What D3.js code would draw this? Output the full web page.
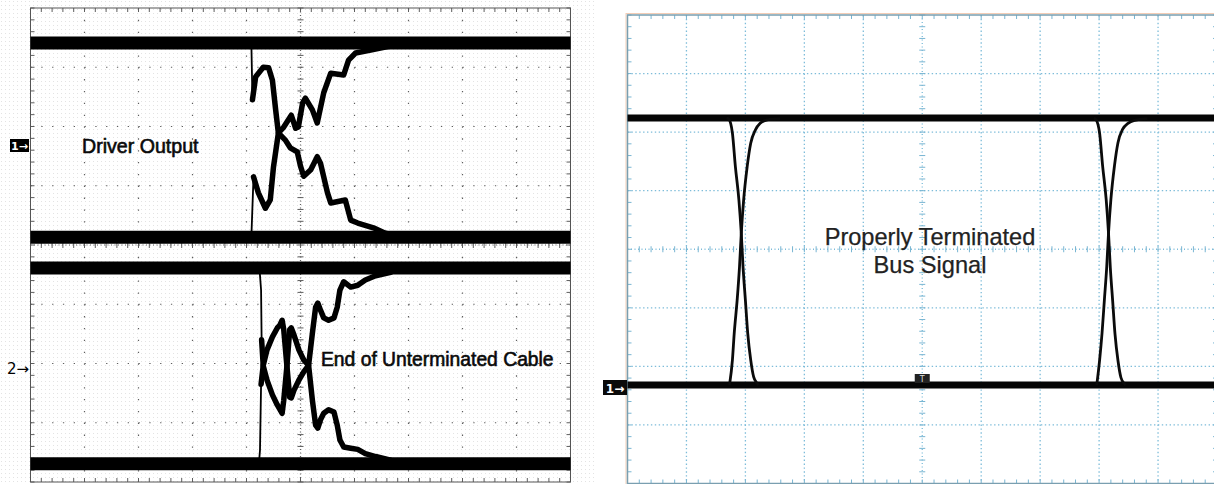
<!DOCTYPE html>
<html><head><meta charset="utf-8">
<script src="https://cdn.jsdelivr.net/npm/d3@7"></script>
<style>
html,body{margin:0;padding:0;background:#fff;}
svg{display:block;}
</style></head><body>
<svg id="chart" width="1214" height="484"></svg>
<script>
// ================= DATA =================
// Left scope screen: time in divisions (0..10), amplitude in divisions from screen centre (-4..4)
const ch1Levels = [3.41, 0.13];          // high, low rails of Driver Output
const ch2Levels = [-0.39, -3.69];        // high, low rails of End of Unterminated Cable

const ch1FallT = [4.09,4.11,4.17,4.31,4.41,4.48,4.54,4.59,4.72,4.81,4.94,5.00,5.06,5.19,5.31,5.37,5.50,5.56,5.83,5.93,6.06,6.35,6.57,6.85];
const ch1FallV = [3.41,2.45,2.84,3.00,2.99,2.78,2.28,1.89,1.77,1.64,1.57,1.33,1.16,1.27,1.49,1.38,0.88,0.71,0.76,0.42,0.37,0.29,0.20,0.14];
const ch1RiseT = [4.09,4.13,4.22,4.35,4.44,4.50,4.59,4.69,4.83,4.91,4.96,5.04,5.09,5.22,5.31,5.43,5.56,5.80,5.89,6.02,6.30,6.57,6.85];
const ch1RiseV = [0.13,1.15,0.88,0.62,0.76,1.32,1.89,1.99,2.19,1.97,1.99,2.40,2.48,2.28,2.06,2.57,2.90,2.87,3.12,3.24,3.29,3.34,3.39];

const ch2RiseT = [4.23,4.25,4.27,4.31,4.38,4.48,4.57,4.62,4.66,4.69,4.75,4.80,4.83,4.88,4.97,5.06,5.15,5.22,5.28,5.32,5.37,5.43,5.52,5.62,5.68,5.73,5.80,5.93,6.06,6.20,6.39,6.67];
const ch2RiseV = [-3.69,-3.46,-2.35,-2.03,-1.77,-1.55,-1.40,-1.35,-1.27,-1.43,-2.06,-2.57,-2.58,-2.45,-2.28,-2.14,-2.03,-1.49,-1.05,-0.98,-1.10,-1.23,-1.27,-1.23,-1.05,-0.76,-0.62,-0.71,-0.68,-0.59,-0.52,-0.46];
const ch2FallT = [4.24,4.27,4.28,4.31,4.38,4.48,4.57,4.66,4.69,4.75,4.80,4.83,4.88,4.97,5.06,5.15,5.22,5.28,5.32,5.37,5.43,5.52,5.62,5.68,5.73,5.80,5.93,6.06,6.20,6.39,6.67];
const ch2FallV = [-0.39,-0.76,-1.60,-2.04,-2.28,-2.53,-2.70,-2.84,-2.62,-2.03,-1.43,-1.40,-1.52,-1.77,-1.94,-2.03,-2.62,-3.04,-3.09,-2.95,-2.84,-2.78,-2.82,-3.04,-3.29,-3.41,-3.43,-3.45,-3.52,-3.57,-3.63];

// Right scope screen (properly terminated bus)
const busLevels = [2.24, -2.32];
const fall1T = [1.68,1.72,1.78,1.83,1.89,1.93,1.96,2.00,2.04,2.09,2.14,2.20,2.22];
const fall1V = [2.24,2.22,1.98,1.41,0.84,0.27,-0.30,-0.87,-1.44,-1.89,-2.18,-2.29,-2.32];
const rise1T = [1.73,1.78,1.81,1.86,1.90,1.93,1.97,2.03,2.09,2.17,2.25,2.37,2.59];
const rise1V = [-2.32,-1.89,-1.44,-0.87,-0.30,0.27,0.84,1.41,1.81,2.04,2.15,2.21,2.23];
const fall2T = [7.91,7.95,8.01,8.06,8.12,8.16,8.19,8.23,8.27,8.32,8.37,8.43,8.45];
const fall2V = [2.24,2.21,1.97,1.42,0.85,0.27,-0.31,-0.88,-1.45,-1.90,-2.19,-2.30,-2.32];
const rise2T = [7.96,8.01,8.05,8.09,8.13,8.16,8.20,8.26,8.32,8.40,8.49,8.60,8.82];
const rise2V = [-2.32,-1.88,-1.43,-0.86,-0.29,0.28,0.85,1.42,1.82,2.05,2.15,2.20,2.23];

const labelsLeft = ["Driver Output", "End of Unterminated Cable"];
const labelsRight = ["Properly Terminated", "Bus Signal"];
const channelMarkers = ["1\u2192", "2\u2192"];
const xDivisions = d3.range(0, 11);
const yDivisions = d3.range(-4, 5);

// ================= DRAW =================
const svg = d3.select('#chart');
const zip = (t, v) => t.map((d, i) => [d, v[i]]);

// faint halftone of the scanned left image
const defs = svg.append('defs');
const pat = defs.append('pattern').attr('id', 'ht').attr('width', 4).attr('height', 4)
  .attr('patternUnits', 'userSpaceOnUse');
pat.append('rect').attr('x', 1).attr('y', 1).attr('width', 1).attr('height', 1).attr('fill', '#e3e3e3');
svg.append('rect').attr('x', 0).attr('y', 0).attr('width', 596).attr('height', 484).attr('fill', 'url(#ht)');

function drawScreen(g, xS, yS, opt) {
  const [x0, x1] = xS.range();
  const [y1, y0] = yS.range();
  const mx = (x1 - x0) / 50, my = (y1 - y0) / 40;
  xDivisions.slice(1, -1).forEach(d => {
    if (d === 5) return;
    g.append('line').attr('x1', xS(d)).attr('x2', xS(d)).attr('y1', y0).attr('y2', y1)
      .attr('stroke', opt.grid).attr('stroke-width', opt.gw)
      .attr('stroke-dasharray', opt.vdash(my));
  });
  yDivisions.slice(1, -1).forEach(d => {
    if (d === 0) return;
    g.append('line').attr('y1', yS(d)).attr('y2', yS(d)).attr('x1', x0).attr('x2', x1)
      .attr('stroke', opt.grid).attr('stroke-width', opt.gw)
      .attr('stroke-dasharray', opt.hdash(mx));
  });
  const cx = xS(5), cy = yS(0);
  g.append('line').attr('x1', cx).attr('x2', cx).attr('y1', y0).attr('y2', y1)
    .attr('stroke', opt.grid).attr('stroke-width', opt.gw).attr('stroke-dasharray', '1 2.5');
  g.append('line').attr('y1', cy).attr('y2', cy).attr('x1', x0).attr('x2', x1)
    .attr('stroke', opt.grid).attr('stroke-width', opt.gw).attr('stroke-dasharray', '1 2.5');
  d3.range(0, 51).forEach(i => {
    const x = x0 + i * mx;
    g.append('line').attr('x1', x).attr('x2', x).attr('y1', cy - 3).attr('y2', cy + 3)
      .attr('stroke', opt.tick).attr('stroke-width', 1);
    g.append('line').attr('x1', x).attr('x2', x).attr('y1', y0).attr('y2', y0 + 4)
      .attr('stroke', opt.tick).attr('stroke-width', 1);
    g.append('line').attr('x1', x).attr('x2', x).attr('y1', y1 - 4).attr('y2', y1)
      .attr('stroke', opt.tick).attr('stroke-width', 1);
  });
  d3.range(0, 41).forEach(i => {
    const y = y0 + i * my;
    g.append('line').attr('y1', y).attr('y2', y).attr('x1', cx - 3).attr('x2', cx + 3)
      .attr('stroke', opt.tick).attr('stroke-width', 1);
    g.append('line').attr('y1', y).attr('y2', y).attr('x1', x0).attr('x2', x0 + 4)
      .attr('stroke', opt.tick).attr('stroke-width', 1);
    g.append('line').attr('y1', y).attr('y2', y).attr('x1', x1 - 4).attr('x2', x1)
      .attr('stroke', opt.tick).attr('stroke-width', 1);
  });
  if (opt.fringe) {
    g.append('rect').attr('x', x0 - 1.5).attr('y', y0 - 1.5).attr('width', x1 - x0 + 3).attr('height', y1 - y0 + 3)
      .attr('fill', 'none').attr('stroke', opt.fringe).attr('stroke-width', 1);
  }
  g.append('rect').attr('x', x0).attr('y', y0).attr('width', x1 - x0).attr('height', y1 - y0)
    .attr('fill', 'none').attr('stroke', opt.frame).attr('stroke-width', opt.fw);
}

// ---------- LEFT SCREEN ----------
const xL = d3.scaleLinear().domain([0, 10]).range([30.5, 570.5]);
const yL = d3.scaleLinear().domain([-4, 4]).range([482, 8]);
const gL = svg.append('g');
drawScreen(gL, xL, yL, {
  grid: '#5e5e5e', gw: 1.2, tick: '#5e5e5e', frame: '#555', fw: 1,
  vdash: m => `1.3 ${m - 1.3}`, hdash: m => `1.3 ${m - 1.3}`
});

const lineL = d3.line().x(d => xL(d[0])).y(d => yL(d[1]));
[...ch1Levels, ...ch2Levels].forEach(v => {
  gL.append('line').attr('x1', xL(0)).attr('x2', xL(10)).attr('y1', yL(v)).attr('y2', yL(v))
    .attr('stroke', '#000').attr('stroke-width', 13);
});
[[ch1FallT, ch1FallV, 2], [ch1RiseT, ch1RiseV, 2], [ch2RiseT, ch2RiseV, 3], [ch2FallT, ch2FallV, 3]]
  .forEach(([t, v, k]) => {
    const pts = zip(t, v);
    gL.append('path').attr('d', lineL(pts.slice(0, k + 1))).attr('fill', 'none')
      .attr('stroke', '#000').attr('stroke-width', 1.8);
    gL.append('path').attr('d', lineL(pts.slice(k - 1))).attr('fill', 'none')
      .attr('stroke', '#000').attr('stroke-width', 5.5).attr('stroke-linejoin', 'round').attr('stroke-linecap', 'round');
  });

gL.append('rect').attr('x', 10).attr('y', 139).attr('width', 19).attr('height', 13).attr('fill', '#000');
gL.append('text').attr('x', 19.5).attr('y', 150).attr('text-anchor', 'middle')
  .attr('font-family', 'DejaVu Sans').attr('font-weight', 'bold').attr('font-size', 11).attr('fill', '#fff')
  .text(channelMarkers[0]);
gL.append('text').attr('x', 7).attr('y', 374)
  .attr('font-family', 'DejaVu Sans').attr('font-size', 15).attr('fill', '#000')
  .text(channelMarkers[1]);

gL.append('text').attr('x', 82).attr('y', 153)
  .attr('font-family', '"Liberation Sans", Arial, sans-serif').attr('font-size', 19.6)
  .attr('fill', '#0a0a0a').attr('stroke', '#0a0a0a').attr('stroke-width', 0.6).text(labelsLeft[0]);
gL.append('text').attr('x', 321).attr('y', 366)
  .attr('font-family', '"Liberation Sans", Arial, sans-serif').attr('font-size', 19.3)
  .attr('fill', '#0a0a0a').attr('stroke', '#0a0a0a').attr('stroke-width', 0.6).text(labelsLeft[1]);

// ---------- RIGHT SCREEN ----------
const xR = d3.scaleLinear().domain([0, 10]).range([627.5, 1217]);
const yR = d3.scaleLinear().domain([-4, 4]).range([483.5, 15]);
const gR = svg.append('g');
drawScreen(gR, xR, yR, {
  grid: '#7dbcd9', gw: 1.3, tick: '#78b5d2', frame: '#7a9fb0', fw: 1.5, fringe: '#f3cdb6',
  vdash: m => `1.4 2.5`, hdash: m => `1.4 2.5`
});
const lineR = d3.line().x(d => xR(d[0])).y(d => yR(d[1])).curve(d3.curveMonotoneX);
busLevels.forEach(v => {
  gR.append('line').attr('x1', xR(0)).attr('x2', xR(10)).attr('y1', yR(v)).attr('y2', yR(v))
    .attr('stroke', '#050505').attr('stroke-width', 7);
});
[[fall1T, fall1V], [rise1T, rise1V], [fall2T, fall2V], [rise2T, rise2V]].forEach(([t, v]) => {
  gR.append('path').attr('d', lineR(zip(t, v))).attr('fill', 'none')
    .attr('stroke', '#0b0b0b').attr('stroke-width', 2.8).attr('stroke-linejoin', 'round');
});
gR.append('rect').attr('x', 603).attr('y', 380).attr('width', 24).attr('height', 15).attr('fill', '#0a0a0a');
gR.append('text').attr('x', 615).attr('y', 392.5).attr('text-anchor', 'middle')
  .attr('font-family', 'DejaVu Sans').attr('font-weight', 'bold').attr('font-size', 12).attr('fill', '#fff')
  .text(channelMarkers[0]);
gR.append('rect').attr('x', xR(5) - 7.5).attr('y', 374).attr('width', 15).attr('height', 9).attr('fill', '#222');
gR.append('text').attr('x', xR(5)).attr('y', 382).attr('text-anchor', 'middle')
  .attr('font-family', 'DejaVu Sans').attr('font-size', 8).attr('fill', '#ddd').text('T');

gR.append('text').attr('x', 930).attr('y', 245).attr('text-anchor', 'middle')
  .attr('font-family', '"Liberation Sans", Arial, sans-serif').attr('font-size', 23.6)
  .attr('fill', '#222').attr('stroke', '#222').attr('stroke-width', 0.25).text(labelsRight[0]);
gR.append('text').attr('x', 930).attr('y', 273).attr('text-anchor', 'middle')
  .attr('font-family', '"Liberation Sans", Arial, sans-serif').attr('font-size', 23.6)
  .attr('fill', '#222').attr('stroke', '#222').attr('stroke-width', 0.25).text(labelsRight[1]);
</script>
</body></html>
